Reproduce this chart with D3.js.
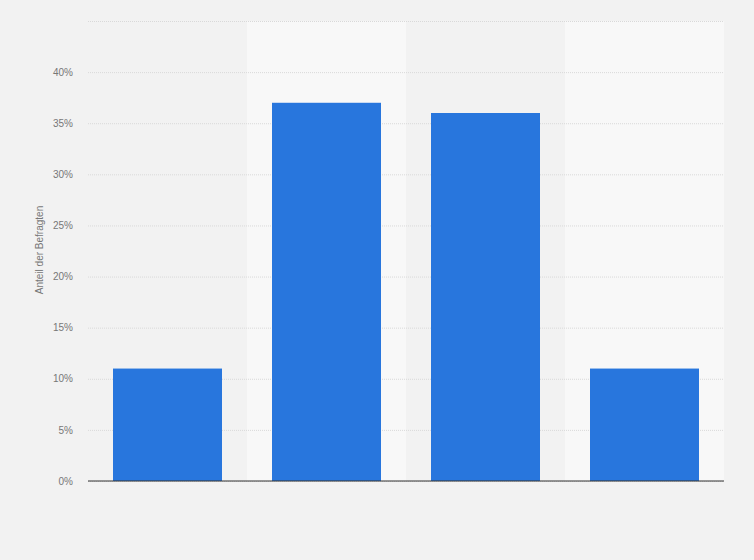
<!DOCTYPE html>
<html><head><meta charset="utf-8">
<script src="https://cdn.jsdelivr.net/npm/d3@7"></script>
<style>
html,body{margin:0;padding:0;background:#f2f2f2;}
svg{display:block;font-family:"Liberation Sans",Arial,sans-serif;}
</style></head>
<body>
<svg id="chart" width="754" height="560"></svg>
<script>
const categories = ["Kategorie 1", "Kategorie 2", "Kategorie 3", "Kategorie 4"];
const values = [11, 37, 36, 11];
const yTicks = [0, 5, 10, 15, 20, 25, 30, 35, 40, 45];
const yLabel = "Anteil der Befragten";

const svg = d3.select("#chart");
const W = 754, H = 560;
const m = {left: 88, right: 30, top: 21, bottom: 79};
const iw = W - m.left - m.right, ih = H - m.top - m.bottom;

svg.append("rect").attr("width", W).attr("height", H).attr("fill", "#f2f2f2");
const g = svg.append("g").attr("transform", `translate(${m.left},${m.top})`);

const x = d3.scaleBand().domain(categories).range([0, iw]).paddingInner(0).paddingOuter(0);
const y = d3.scaleLinear().domain([0, 45]).range([ih, 0]);

// alternating bands
g.selectAll("rect.band").data(categories).join("rect")
  .attr("class", "band")
  .attr("x", d => x(d)).attr("y", 0)
  .attr("width", x.bandwidth()).attr("height", ih)
  .attr("fill", (d, i) => i % 2 ? "#f8f8f8" : "#f2f2f2");

// grid
const grid = g.append("g").call(d3.axisLeft(y).tickValues(yTicks).tickSize(-iw).tickFormat(""));
grid.select(".domain").remove();
grid.selectAll("line").attr("stroke", "#d9d9d9").attr("stroke-dasharray", "1,1");

// y axis labels
const ax = g.append("g").call(d3.axisLeft(y).tickValues(yTicks.filter(t => t <= 40)).tickSize(0).tickPadding(15).tickFormat(d => d + "%"));
ax.select(".domain").remove();
ax.selectAll("text").attr("fill", "#777").style("font-size", "10px").attr("font-family", "Liberation Sans, Arial, sans-serif");

// bars
const inner = 25;
g.selectAll("rect.bar").data(values).join("rect")
  .attr("class", "bar")
  .attr("x", (d, i) => x(categories[i]) + inner)
  .attr("width", x.bandwidth() - 2 * inner)
  .attr("y", d => y(d))
  .attr("height", d => y(0) - y(d))
  .attr("fill", "#2876dd");

// baseline
g.append("line").attr("x1", 0).attr("x2", iw).attr("y1", y(0)).attr("y2", y(0))
  .attr("stroke", "#333").attr("stroke-width", 1.2);

// y label
svg.append("text")
  .attr("transform", `translate(43,250) rotate(-90)`)
  .attr("text-anchor", "middle")
  .attr("fill", "#777").style("font-size", "10px")
  .text(yLabel);
</script>
</body></html>
